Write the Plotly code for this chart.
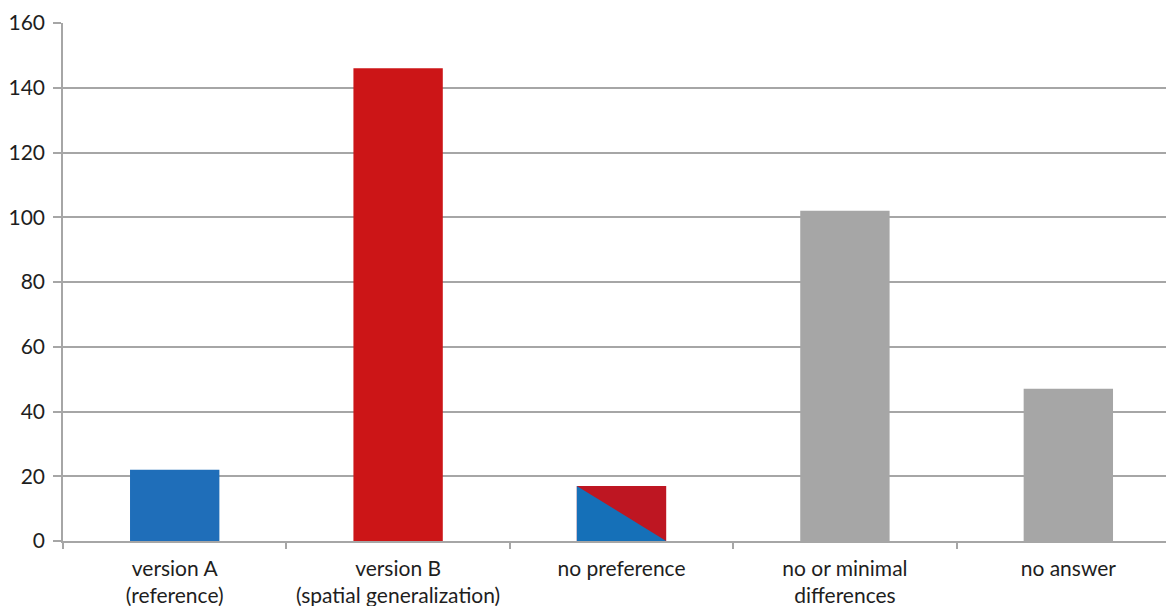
import plotly.graph_objects as go

categories = ["version A<br>(reference)", "version B<br>(spatial generalization)",
              "no preference", "no or minimal<br>differences", "no answer"]
values = [22, 146, 17, 102, 47]
colors = ["#1F6EB9", "#CC1517", "#BE1622", "#A6A6A6", "#A6A6A6"]
split_index = 2
split_color = "#1570B8"
y_ticks = [0, 20, 40, 60, 80, 100, 120, 140, 160]

bar_width = 0.4
xs = list(range(len(categories)))

fig = go.Figure()
fig.add_trace(go.Bar(x=xs, y=values, width=bar_width, marker=dict(color=colors, line=dict(width=0)),
                     showlegend=False, hoverinfo="skip"))

# blue lower-left triangle of the "no preference" bar
i = split_index
v = values[i]
fig.add_trace(go.Scatter(
    x=[i - bar_width / 2, i - bar_width / 2, i + bar_width / 2, i - bar_width / 2],
    y=[0, v, 0, 0], fill="toself", fillcolor=split_color, mode="lines",
    line=dict(width=0, color=split_color), showlegend=False, hoverinfo="skip"))

font = dict(family="Lato, 'Open Sans', sans-serif", size=21, color="#1E1E1E")
grid = "#A6A6A6"

fig.update_layout(
    width=1174, height=606,
    margin=dict(l=55, r=8, t=15, b=73),
    plot_bgcolor="white", paper_bgcolor="white",
    font=font,
    xaxis=dict(
        range=[-0.5, 4.473], automargin=False,
        tickmode="array", tickvals=xs, ticktext=categories,
        ticks="", showgrid=False, zeroline=False,
        showline=True, linecolor=grid, linewidth=1.5,
        minor=dict(tickmode="array", tickvals=[-0.5, 0.5, 1.5, 2.5, 3.5, 4.5],
                   ticks="outside", ticklen=6, tickcolor=grid, tickwidth=1.5, showgrid=False),
        tickfont=font, ticklabelstandoff=8,
    ),
    yaxis=dict(
        range=[0, 160], tickmode="array", tickvals=y_ticks, automargin=False,
        ticks="outside", ticklen=8, tickcolor=grid, tickwidth=1.5,
        showgrid=True, gridcolor=grid, gridwidth=1.5,
        zeroline=False, showline=True, linecolor=grid, linewidth=1.5,
        tickfont=font, ticklabelstandoff=4,
    ),
    bargap=0.6,
)

fig.write_html("out.html")
